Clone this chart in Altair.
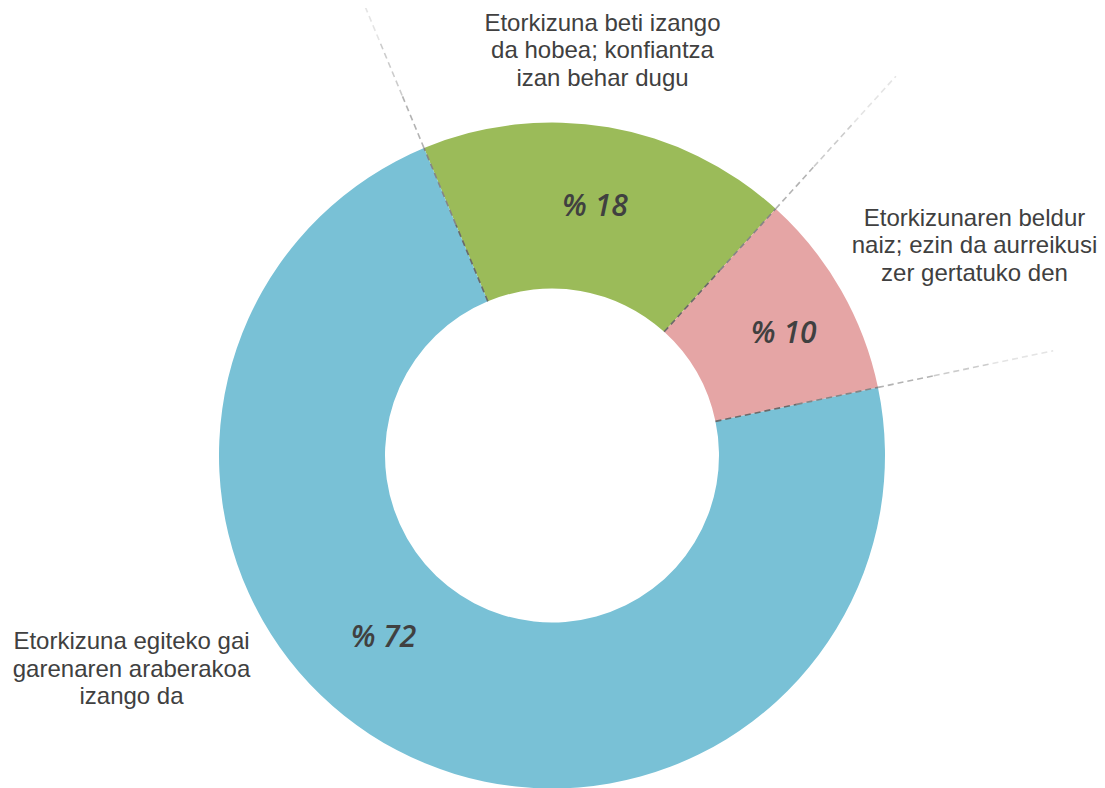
import math
import altair as alt
import pandas as pd

# ---- data ----
categories = [
    "Etorkizuna beti izango da hobea; konfiantza izan behar dugu",
    "Etorkizunaren beldur naiz; ezin da aurreikusi zer gertatuko den",
    "Etorkizuna egiteko gai garenaren araberakoa izango da",
]
label_lines = [
    "Etorkizuna beti izango\nda hobea; konfiantza\nizan behar dugu",
    "Etorkizunaren beldur\nnaiz; ezin da aurreikusi\nzer gertatuko den",
    "Etorkizuna egiteko gai\ngarenaren araberakoa\nizango da",
]
values = [18, 10, 72]
pct_labels = ["% 18", "% 10", "% 72"]

# ---- styles ----
colors = ["#9BBB59", "#E5A5A5", "#79C1D6"]
CX, CY = 544, 447.5
R_OUT, R_IN = 333, 167
START = math.radians(-22.6)
TEXT_COLOR = "#404040"

df = pd.DataFrame({
    "idx": list(range(len(categories))),
    "category": categories,
    "value": values,
    "pct": pct_labels,
})

theta = alt.Theta("value:Q", stack=True,
                  scale=alt.Scale(range=[START, START + 2 * math.pi]))
color = alt.Color("category:N", scale=alt.Scale(domain=categories, range=colors), legend=None)

base = alt.Chart(df)

arcs = base.mark_arc(outerRadius=R_OUT, innerRadius=R_IN).encode(
    theta=theta, color=color, order=alt.Order("idx:Q"),
    x=alt.value(CX), y=alt.value(CY),
)

# percent labels (placed at slice mid-angle, small nudges)
nudges = [(0, 0), (13, 4), (-51, -40)]
pct_layers = []
for i, (ddx, ddy) in enumerate(nudges):
    pct_layers.append(
        base.transform_calculate(
            t=f"datum.idx == {i} ? datum.pct : ''"
        ).mark_text(
            radius=(R_OUT + R_IN) / 2 + 2, font="Open Sans", fontSize=30,
            fontStyle="italic", fontWeight=600, color=TEXT_COLOR,
            align="center", baseline="middle", dx=ddx, dy=ddy,
        ).encode(theta=theta, order=alt.Order("idx:Q"), text="t:N",
                 x=alt.value(CX), y=alt.value(CY))
    )

# dashed leader lines along slice boundaries, fading outward
segments = [(167, 250, "#6a6a6a"), (250, 333, "#858585"), (333, 390, "#b3b3b3"),
            (390, 450, "#cccccc"), (450, 512, "#e4e4e4")]
line_layers = []
for r1, r2, c in segments:
    line_layers.append(
        base.transform_joinaggregate(total="sum(value)")
        .transform_window(cum="sum(value)", sort=[alt.SortField("idx")])
        .transform_calculate(
            a=f"{START} + 2*PI*(datum.cum - datum.value)/datum.total"
        ).transform_calculate(
            x1=f"{CX} + {r1}*sin(datum.a)", y1=f"{CY} - {r1}*cos(datum.a)",
            x2=f"{CX} + {r2}*sin(datum.a)", y2=f"{CY} - {r2}*cos(datum.a)",
        ).mark_rule(color=c, strokeWidth=1.6, strokeDash=[6, 4]).encode(
            x=alt.X("x1:Q", scale=None), y=alt.Y("y1:Q", scale=None),
            x2="x2:Q", y2="y2:Q",
        )
    )

# category labels
label_pos = [(594.5, 22.7), (966.5, 217.7), (123.5, 641.3)]
label_layers = []
for i, (lx, ly) in enumerate(label_pos):
    label_layers.append(
        base.transform_filter(f"datum.idx == {i}").transform_calculate(
            lab=alt.expr.if_(True, label_lines[i].replace("\n", "|"), "")
        ).mark_text(
            font="Liberation Sans", fontSize=24, color=TEXT_COLOR, align="center",
            baseline="alphabetic", lineBreak="|", lineHeight=27.6,
        ).encode(text="lab:N", x=alt.value(lx), y=alt.value(ly))
    )

chart = alt.layer(arcs, *line_layers, *pct_layers, *label_layers).properties(
    width=1089, height=780, padding=0, autosize=alt.AutoSizeParams(type="none"),
).configure(background="white").configure_view(strokeWidth=0, clip=False)

chart.save("out.html", embed_options={"renderer": "svg", "actions": False})
